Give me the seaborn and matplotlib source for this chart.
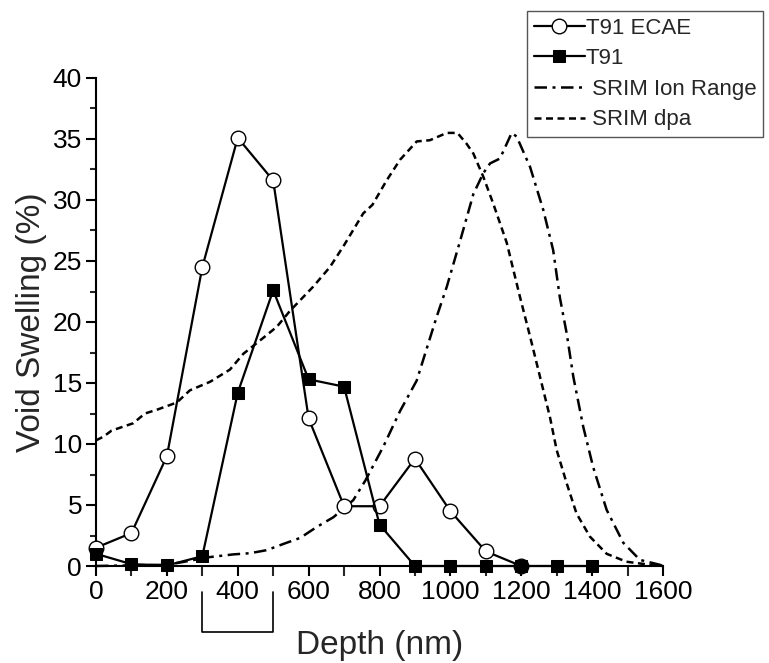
import numpy as np
import pandas as pd
import matplotlib
matplotlib.use("Agg")
import matplotlib.pyplot as plt
import seaborn as sns
from matplotlib.ticker import MultipleLocator

# ---- data ----
ecae_depth = [0, 100, 200, 300, 400, 500, 600, 700, 800, 900, 1000, 1100, 1200]
ecae_swell = [1.5, 2.7, 9.0, 24.5, 35.1, 31.6, 12.1, 4.9, 4.9, 8.8, 4.5, 1.2, 0.0]

t91_depth = [0, 100, 200, 300, 400, 500, 600, 700, 800, 900, 1000, 1100, 1200, 1300, 1400]
t91_swell = [1.0, 0.15, 0.05, 0.8, 14.2, 22.6, 15.3, 14.7, 3.4, 0.0, 0.0, 0.0, 0.0, 0.0, 0.0]

ion_depth = [0, 100, 200, 250, 312, 387, 435, 482, 528, 576, 623, 670, 726, 760, 811, 858,
             905, 961, 990, 1027, 1065, 1093, 1112, 1140, 1173, 1187, 1225, 1262, 1290,
             1309, 1328, 1347, 1375, 1403, 1441, 1488, 1535, 1591, 1600]
ion_value = [0.0, 0.05, 0.1, 0.35, 0.7, 0.95, 1.05, 1.3, 1.8, 2.3, 3.2, 4.0, 5.4, 7.0, 9.8, 12.7,
             15.2, 20.4, 22.9, 26.6, 30.5, 32.2, 33.0, 33.4, 35.5, 35.2, 32.7, 29.2, 25.9,
             22.0, 19.1, 15.5, 11.4, 8.1, 4.6, 1.9, 0.5, 0.1, 0.0]

dpa_depth = [0, 21, 44, 105, 138, 171, 228, 265, 322, 378, 416, 472, 510, 547, 613, 660, 698,
             754, 780, 820, 858, 905, 942, 990, 1020, 1046, 1065, 1093, 1121, 1159, 1196,
             1225, 1253, 1281, 1300, 1328, 1356, 1394, 1441, 1497, 1563, 1600]
dpa_value = [10.3, 10.6, 11.1, 11.7, 12.5, 12.8, 13.4, 14.4, 15.1, 16.1, 17.4, 18.7, 19.6, 20.9,
             22.9, 24.5, 26.2, 28.9, 29.6, 31.6, 33.3, 34.8, 34.9, 35.5, 35.5, 34.6, 33.8, 31.9,
             29.7, 26.5, 22.1, 18.8, 15.5, 12.2, 9.5, 6.8, 4.3, 2.4, 1.0, 0.35, 0.1, 0.0]

labels = ["T91 ECAE", "T91", " SRIM Ion Range", " SRIM dpa"]
x_ticks = [0, 200, 400, 600, 800, 1000, 1200, 1400, 1600]
y_ticks = [0, 5, 10, 15, 20, 25, 30, 35, 40]

sns.set_style("ticks")
plt.rcParams['font.family'] = ['Liberation Sans', 'DejaVu Sans']

fig = plt.figure(figsize=(7.69, 6.63), dpi=100)
ax = fig.add_axes([96/769, 1-566/663, (663-96)/769, (566-78)/663])

df_ion = pd.DataFrame({"x": ion_depth, "y": ion_value})
df_dpa = pd.DataFrame({"x": dpa_depth, "y": dpa_value})
df_ecae = pd.DataFrame({"x": ecae_depth, "y": ecae_swell})
df_t91 = pd.DataFrame({"x": t91_depth, "y": t91_swell})

sns.lineplot(data=df_ion, x="x", y="y", ax=ax, sort=False, estimator=None, color="black",
             lw=1.8, label=labels[2], zorder=2)
ax.lines[-1].set_dashes([5, 2.2, 1.2, 2.2])
sns.lineplot(data=df_dpa, x="x", y="y", ax=ax, sort=False, estimator=None, color="black",
             lw=1.8, label=labels[3], zorder=2)
ax.lines[-1].set_dashes([2.8, 1.8])
sns.lineplot(data=df_ecae, x="x", y="y", ax=ax, sort=False, estimator=None, color="black",
             lw=1.6, marker="o", markersize=10.5, markerfacecolor="white",
             markeredgecolor="black", markeredgewidth=1.0, label=labels[0], zorder=3)
sns.lineplot(data=df_t91, x="x", y="y", ax=ax, sort=False, estimator=None, color="black",
             lw=1.6, marker="s", markersize=9, markerfacecolor="black",
             markeredgecolor="black", label=labels[1], zorder=4)
for ln in ax.lines:
    ln.set_clip_on(False)

ax.set_xlim(0, 1600)
ax.set_ylim(0, 40)
ax.set_xticks(x_ticks)
ax.set_yticks(y_ticks)
ax.xaxis.set_minor_locator(MultipleLocator(100))
ax.yaxis.set_minor_locator(MultipleLocator(2.5))
ax.tick_params(axis="both", which="major", labelsize=19, width=1.5, length=7, direction="out",
               color="black", labelcolor="black")
ax.tick_params(axis="x", which="minor", width=1.5, length=7, direction="out")
ax.tick_params(axis="y", which="minor", width=1.5, length=4, direction="out")
ax.tick_params(axis="x", which="major", pad=3)
ax.tick_params(axis="y", which="major", pad=3)
for s in ["top", "right"]:
    ax.spines[s].set_visible(False)
for s in ["left", "bottom"]:
    ax.spines[s].set_linewidth(1.5)
    ax.spines[s].set_color("black")

ax.set_xlabel("Depth (nm)", fontsize=24, labelpad=19)
ax.set_ylabel("Void Swelling (%)", fontsize=24, labelpad=4)

# bracket under the axis marking 300-500 nm
trans = matplotlib.transforms.blended_transform_factory(ax.transData, ax.transAxes)
ax.plot([300, 300, 500, 500], [-0.053, -0.135, -0.135, -0.053], transform=trans,
        color="black", lw=1.2, clip_on=False)

ax.get_legend().remove()
h, l = ax.get_legend_handles_labels()
order = [l.index(n) for n in labels]
leg = fig.legend([h[i] for i in order], [l[i] for i in order], loc="upper left",
                 bbox_to_anchor=(527/769, 1-11/663), fontsize=16, frameon=True,
                 fancybox=False, edgecolor="#555555", framealpha=1, handlelength=2.3,
                 handletextpad=0.05, borderpad=0.3, labelspacing=0.43, borderaxespad=0)
leg.get_frame().set_linewidth(1.0)

fig.savefig("out.png", dpi=100)
